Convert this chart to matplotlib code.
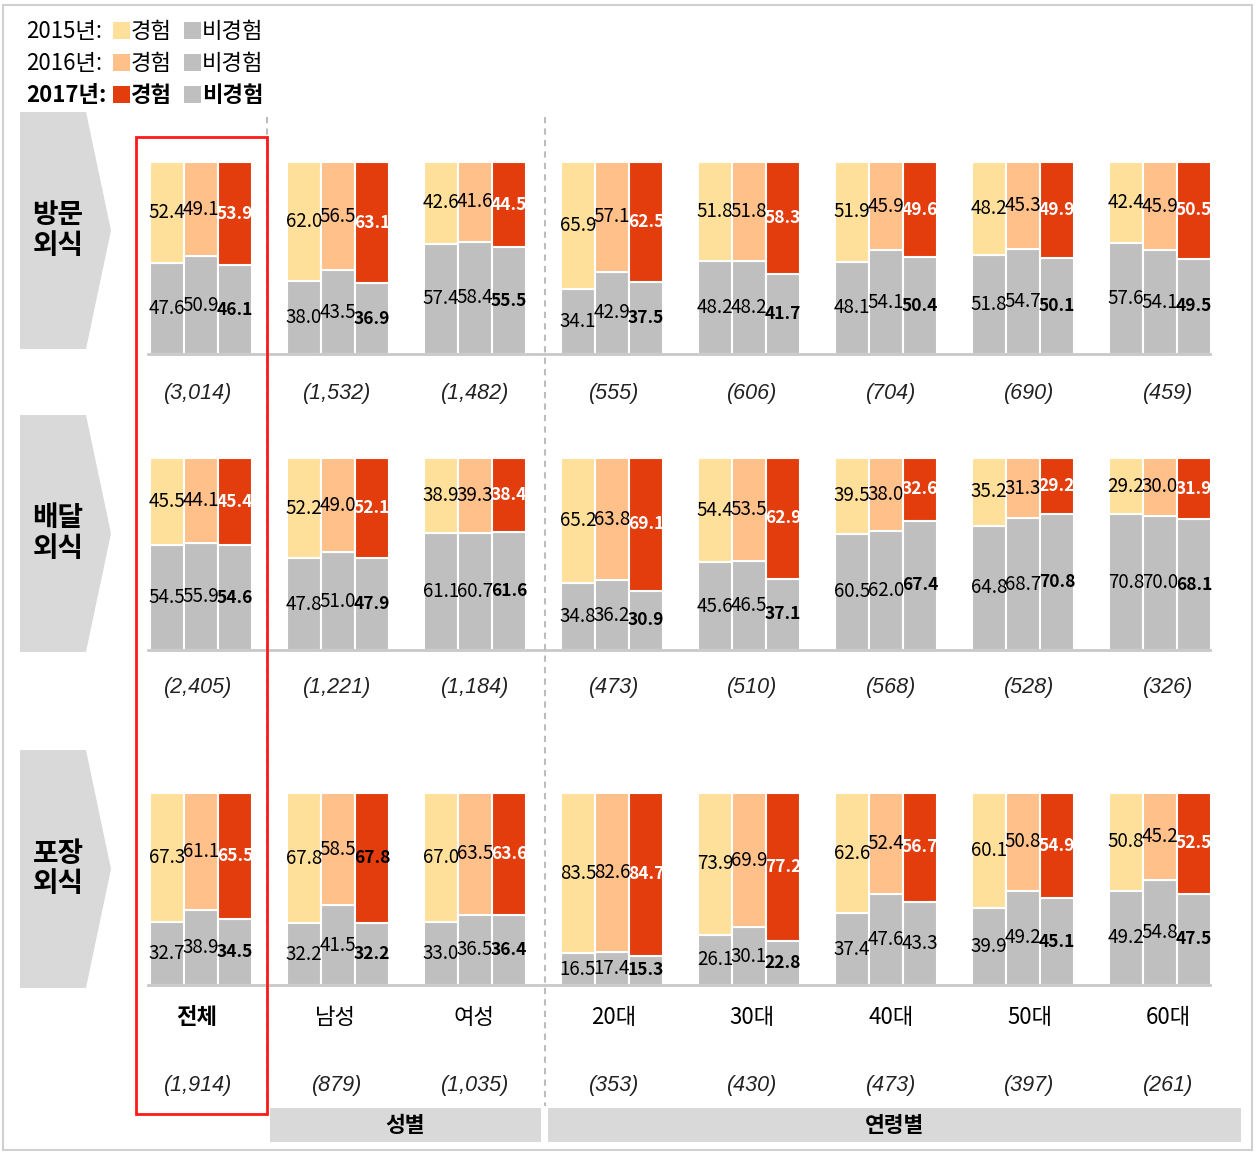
import matplotlib
matplotlib.use("Agg")
import matplotlib.pyplot as plt
import numpy as np
from matplotlib.patches import Polygon, Rectangle
from matplotlib.lines import Line2D

plt.rcParams["font.family"] = ["Noto Sans CJK KR", "DejaVu Sans"]

W, H = 1259, 1152

# ---- data ---------------------------------------------------------------
groups = ["전체", "남성", "여성", "20대", "30대", "40대", "50대", "60대"]
years = ["2015년", "2016년", "2017년"]
rows = ["방문\n외식", "배달\n외식", "포장\n외식"]

# 경험 (experienced) share, per row -> per year
visit_yes = [[52.4, 62.0, 42.6, 65.9, 51.8, 51.9, 48.2, 42.4],
             [49.1, 56.5, 41.6, 57.1, 51.8, 45.9, 45.3, 45.9],
             [53.9, 63.1, 44.5, 62.5, 58.3, 49.6, 49.9, 50.5]]
visit_no = [[47.6, 38.0, 57.4, 34.1, 48.2, 48.1, 51.8, 57.6],
            [50.9, 43.5, 58.4, 42.9, 48.2, 54.1, 54.7, 54.1],
            [46.1, 36.9, 55.5, 37.5, 41.7, 50.4, 50.1, 49.5]]
deliv_yes = [[45.5, 52.2, 38.9, 65.2, 54.4, 39.5, 35.2, 29.2],
             [44.1, 49.0, 39.3, 63.8, 53.5, 38.0, 31.3, 30.0],
             [45.4, 52.1, 38.4, 69.1, 62.9, 32.6, 29.2, 31.9]]
deliv_no = [[54.5, 47.8, 61.1, 34.8, 45.6, 60.5, 64.8, 70.8],
            [55.9, 51.0, 60.7, 36.2, 46.5, 62.0, 68.7, 70.0],
            [54.6, 47.9, 61.6, 30.9, 37.1, 67.4, 70.8, 68.1]]
take_yes = [[67.3, 67.8, 67.0, 83.5, 73.9, 62.6, 60.1, 50.8],
            [61.1, 58.5, 63.5, 82.6, 69.9, 52.4, 50.8, 45.2],
            [65.5, 67.8, 63.6, 84.7, 77.2, 56.7, 54.9, 52.5]]
take_no = [[32.7, 32.2, 33.0, 16.5, 26.1, 37.4, 39.9, 49.2],
           [38.9, 41.5, 36.5, 17.4, 30.1, 47.6, 49.2, 54.8],
           [34.5, 32.2, 36.4, 15.3, 22.8, 43.3, 45.1, 47.5]]

visit_n = ["(3,014)", "(1,532)", "(1,482)", "(555)", "(606)", "(704)", "(690)", "(459)"]
deliv_n = ["(2,405)", "(1,221)", "(1,184)", "(473)", "(510)", "(568)", "(528)", "(326)"]
take_n = ["(1,914)", "(879)", "(1,035)", "(353)", "(430)", "(473)", "(397)", "(261)"]

YES_COLORS = ["#FFE09A", "#FFC08A", "#E33D0E"]
NO_COLOR = "#BFBFBF"
NUM_FONT = ["Noto Sans CJK KR", "DejaVu Sans"]


def fx(x):
    return x / W


def fy(y):
    return 1 - y / H


fig = plt.figure(figsize=(W / 100, H / 100), dpi=100)

# row layout (pixel tops/bottoms of the 0..100 bar area)
row_top = [162, 458, 793]
row_bot = [354, 650, 985]
n_y = [393, 688, 1085]
chev = [(112, 349), (415, 652), (750, 988)]
row_data = [(visit_yes, visit_no, visit_n), (deliv_yes, deliv_no, deliv_n),
            (take_yes, take_no, take_n)]

step = 137.0          # px between groups
x0 = 201.0            # px centre of first group
bar_w = 34 / step
xlim = (-x0 / step, (W - x0) / step)
x = np.arange(len(groups))

for r, (yes, no, ns) in enumerate(row_data):
    h = row_bot[r] - row_top[r]
    ax = fig.add_axes([0, fy(row_bot[r]), 1, h / H])
    ax.set_xlim(*xlim)
    ax.set_ylim(0, 100)
    ax.axis("off")
    ppu = h / 100.0  # px per data unit
    for k in range(3):
        xs = x + (k - 1) * bar_w
        ax.bar(xs, no[k], bar_w, color=NO_COLOR, edgecolor="white", linewidth=1.5)
        ax.bar(xs, yes[k], bar_w, bottom=no[k], color=YES_COLORS[k],
               edgecolor="white", linewidth=1.5)
        for i in range(len(groups)):
            bold = k == 2
            ycol = "white" if k == 2 else "black"
            nbold = bold
            if r == 2 and i == 1 and k == 2:
                ycol = "black"
            if r == 2 and i == 5 and k == 2:
                nbold = False
            ax.text(xs[i], no[k][i] + yes[k][i] / 2, f"{yes[k][i]:.1f}",
                    ha="center", va="center", fontsize=12.5 if bold else 13.5,
                    color=ycol, family=NUM_FONT,
                    fontweight="bold" if bold else "normal")
            ax.text(xs[i], no[k][i] / 2, f"{no[k][i]:.1f}",
                    ha="center", va="center", fontsize=12.5 if nbold else 13.5,
                    color="black", family=NUM_FONT,
                    fontweight="bold" if nbold else "normal")
    # baseline
    ax.add_line(Line2D([xlim[0] + 148 / step, xlim[0] + 1210 / step], [0, 0],
                       color="#C8C8C8", lw=2, clip_on=False))
    # sample sizes
    for i, n in enumerate(ns):
        ax.text(i * 1.011 - 0.02, -(n_y[r] - row_bot[r]) / ppu, n,
                ha="center", va="center", fontsize=15.5, style="italic",
                family=["Liberation Sans", "DejaVu Sans"], color="#222222",
                clip_on=False)
    if r == 2:
        for i, g in enumerate(groups):
            ax.text(i * 1.013 - 0.03, -(1018 - 985) / ppu, g, ha="center",
                    va="center", fontsize=16,
                    fontweight="bold" if i == 0 else "normal", clip_on=False)

    # chevron label
    t, b = chev[r]
    mid = (t + b) / 2
    pts = [(20, t), (86, t), (111, mid), (86, b), (20, b)]
    fig.patches.append(Polygon([(fx(px), fy(py)) for px, py in pts], closed=True,
                               transform=fig.transFigure, facecolor="#D9D9D9",
                               edgecolor="none", zorder=0))
    fig.text(fx(58), fy(mid), rows[r], ha="center", va="center", fontsize=20,
             fontweight="bold", linespacing=1.1)

# dashed separators
for sx in (267, 545):
    fig.add_artist(Line2D([fx(sx), fx(sx)], [fy(117), fy(1106)], color="#BDBDBD",
                          lw=1.5, ls=(0, (3, 2.5)), transform=fig.transFigure))

# red highlight box
fig.patches.append(Rectangle((fx(136), fy(1114)), fx(267 - 136), (1114 - 137) / H,
                             transform=fig.transFigure, fill=False,
                             edgecolor="#FF1A1A", lw=2, zorder=5))

# bottom category bars
for (l, rr, lab) in [(270, 541, "성별"), (548, 1241, "연령별")]:
    fig.patches.append(Rectangle((fx(l), fy(1142)), fx(rr - l), 34 / H,
                                 transform=fig.transFigure, facecolor="#D9D9D9",
                                 edgecolor="none"))
    fig.text(fx((l + rr) / 2), fy(1126), lab, ha="center", va="center",
             fontsize=15.5, fontweight="bold")

# legend
for k, yr in enumerate(years):
    cy = 31 + 32 * k
    wt = "bold" if k == 2 else "normal"
    fig.text(fx(26), fy(cy), yr + ":", ha="left", va="center", fontsize=16,
             fontweight=wt)
    fig.patches.append(Rectangle((fx(113), fy(cy + 8)), fx(17), 17 / H,
                                 transform=fig.transFigure,
                                 facecolor=YES_COLORS[k], edgecolor="none"))
    fig.text(fx(131), fy(cy), "경험", ha="left", va="center", fontsize=16,
             fontweight=wt)
    fig.patches.append(Rectangle((fx(184), fy(cy + 8)), fx(17), 17 / H,
                                 transform=fig.transFigure,
                                 facecolor=NO_COLOR, edgecolor="none"))
    fig.text(fx(202), fy(cy), "비경험", ha="left", va="center", fontsize=16,
             fontweight=wt)

# outer frame
fig.patches.append(Rectangle((fx(3), fy(1150)), fx(1249), 1145 / H,
                             transform=fig.transFigure, fill=False,
                             edgecolor="#D0D0D0", lw=1.5))

fig.savefig("out.png", dpi=100)
